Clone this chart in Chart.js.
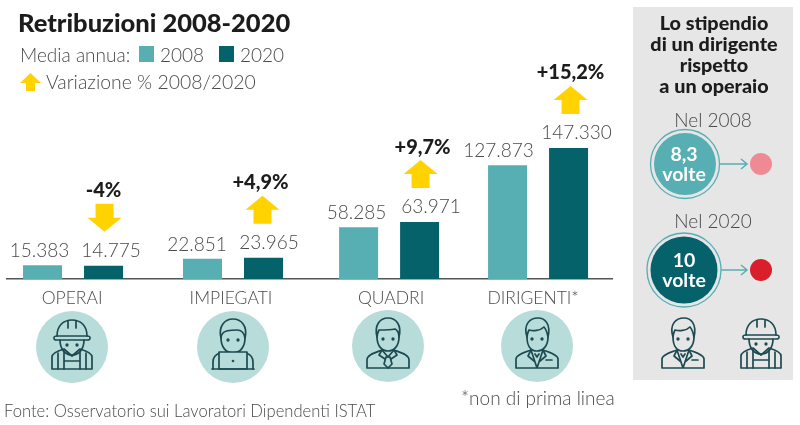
<!DOCTYPE html>
<html>
<head>
<meta charset="utf-8">
<title>Retribuzioni 2008-2020</title>
<script src="https://cdn.jsdelivr.net/npm/chart.js@4"></script>
<style>
html, body { margin: 0; padding: 0; background: #fff; }
#wrap { position: relative; width: 800px; height: 425px; overflow: hidden; }
#chart { position: absolute; left: 0; top: 0; }
#overlay { position: absolute; left: 0; top: 0; }
#overlay text { font-family: Lato, sans-serif; font-weight: 300; fill: #4a4a4a; dominant-baseline: central; }
#overlay text.b { font-weight: 900; fill: #1c1c1c; }
#overlay text.w { font-weight: 700; fill: #fff; text-anchor: middle; font-size: 19.5px; }
.ic { fill: none; stroke: #1d4a50; stroke-width: 1.7; stroke-linejoin: round; stroke-linecap: round; }
</style>
</head>
<body>
<div id="wrap">
<canvas id="chart" width="800" height="425"></canvas>
<svg id="overlay" width="800" height="425" viewBox="0 0 800 425">
  <defs>
    <g id="worker" class="ic">
      <path d="M7 18C7 8 13 2 22 2S37 8 37 18"/><path d="M18 3V10M26 3V10"/>
      <path d="M4 20C4 18 5 18 7 18H37C39 18 40 18 40 20S39 22 37 22H7C5 22 4 22 4 20Z"/>
      <path d="M10 22C10 31 15 37 22 37S34 31 34 22"/>
      <path d="M2 51V39C2 35 7 33 14 31L22 38L30 31C37 33 42 35 42 39V51Z"/>
      <path d="M8 35V51M14 33V51M30 33V51M36 35V51M14 43H30"/>
      <circle cx="17" cy="27" r=".8"/><circle cx="27" cy="27" r=".8"/>
    </g>
    <g id="clerk" class="ic">
      <path d="M10 20C7 8 14 1 22 1S37 8 34 20C33 14 30 12 26 12C20 12 14 12 12 15C11 16 10 18 10 20Z"/>
      <path d="M10 20C10 29 15 35 22 35S34 29 34 20"/>
      <path d="M2 51V44C2 38 6 36 9 35M42 51V44C42 38 38 36 35 35"/>
      <rect x="8" y="34" width="28" height="17" fill="#b8dcda"/><path d="M1 51H43"/>
      <circle cx="17" cy="22" r=".8"/><circle cx="27" cy="22" r=".8"/><circle cx="22" cy="43" r=".5"/>
    </g>
    <g id="boss" class="ic">
      <path d="M11 20C8 8 14 1 22 1S36 8 33 20C33 15 31 13 29 12C24 13 17 13 13 13C12 15 11 18 11 20Z"/>
      <path d="M11 20C11 29 16 34 22 34S33 29 33 20"/>
      <path d="M1 51V43C1 38 8 36 16 33L22 40L28 33C36 36 43 38 43 43V51Z"/>
      <path d="M20 40L18 47L22 51L26 47L24 40Z"/><path d="M16 33L13 38L19 42M28 33L31 38L25 42"/>
      <circle cx="17" cy="22" r=".8"/><circle cx="27" cy="22" r=".8"/>
    </g>
    <g id="exec" class="ic">
      <path d="M12 20C8 7 15 1 23 1C30 1 36 7 33 20C32 15 31 12 29 10C25 14 18 14 14 13C13 15 12 18 12 20Z"/>
      <path d="M12 20C12 29 16 34 22 34S33 29 33 20"/>
      <path d="M1 51V42C1 38 8 36 16 33L22 51L28 33C36 36 43 38 43 42V51Z"/>
      <path d="M16 33L13 39L19 44M28 33L31 39L25 44M20 37L22 40L24 37M31 43H37"/>
      <circle cx="17" cy="22" r=".8"/><circle cx="27" cy="22" r=".8"/>
    </g>
  </defs>

  <text class="b" x="18" y="22" font-size="25.5">Retribuzioni 2008-2020</text>
  <text x="20" y="54" font-size="19">Media annua:</text>
  <rect x="139" y="46" width="15" height="16" fill="#57aeb3"/>
  <text x="160" y="54" font-size="19">2008</text>
  <rect x="219" y="46" width="15" height="16" fill="#05616a"/>
  <text x="240" y="54" font-size="19">2020</text>
  <path d="M30.500 73L41 83H35V91H26V83H20Z" fill="#ffd200"/>
  <text x="46" y="81" font-size="19.400">Variazione % 2008/2020</text>

  <circle cx="72" cy="347" r="36" fill="#b8dcda"/>
  <circle cx="233" cy="347" r="36" fill="#b8dcda"/>
  <circle cx="388" cy="346" r="36" fill="#b8dcda"/>
  <circle cx="537" cy="346" r="36" fill="#b8dcda"/>
  <use href="#worker" x="50" y="318"/>
  <use href="#clerk" x="211" y="318"/>
  <use href="#boss" x="366" y="317"/>
  <use href="#exec" x="515" y="317"/>

  <text x="4" y="411" font-size="16.600">Fonte: Osservatorio sui Lavoratori Dipendenti ISTAT</text>
  <text x="461" y="397" font-size="19">*non di prima linea</text>

  <rect x="633" y="7" width="160" height="373" fill="#e6e6e7"/>
  <g text-anchor="middle" font-size="19.800">
    <text class="b" x="714" y="22">Lo stipendio</text>
    <text class="b" x="714" y="43">di un dirigente</text>
    <text class="b" x="714" y="64">rispetto</text>
    <text class="b" x="714" y="85">a un operaio</text>
    <text x="713" y="119" font-size="19">Nel 2008</text>
    <text x="713" y="220" font-size="19">Nel 2020</text>
  </g>
  <path d="M719 164H746M741 159L747 164L741 169" fill="none" stroke="#57aeb3" stroke-width="1.500"/>
  <path d="M721 270H746M741 265L747 270L741 275" fill="none" stroke="#57aeb3" stroke-width="1.500"/>
  <circle cx="685" cy="164" r="34.500" fill="none" stroke="#57aeb3" stroke-width="1.300"/>
  <circle cx="685" cy="164" r="31" fill="#57aeb3"/>
  <circle cx="684" cy="270" r="37" fill="none" stroke="#57aeb3" stroke-width="1.300"/>
  <circle cx="684" cy="270" r="33.500" fill="#05616a"/>
  <circle cx="761" cy="164" r="11" fill="#ef8a94"/>
  <circle cx="761" cy="270" r="11" fill="#d81f2a"/>
  <text class="w" x="684" y="153">8,3</text>
  <text class="w" x="684" y="173">volte</text>
  <text class="w" x="684" y="259">10</text>
  <text class="w" x="684" y="279">volte</text>
  <use href="#exec" x="661" y="317"/>
  <use href="#worker" x="739" y="317"/>
</svg>
</div>

<script>
// valori
var categories = ['OPERAI', 'IMPIEGATI', 'QUADRI', 'DIRIGENTI*'];
var years = ['2008', '2020'];
var values2008 = [15383, 22851, 58285, 127873];
var values2020 = [14775, 23965, 63971, 147330];
var changeLabels = ['-4%', '+4,9%', '+9,7%', '+15,2%'];

// gruppi non equidistanti nell'originale: posizione sull'asse x (in "gruppi")
var groupPos = [0, 1.032, 2.039, 3.0];
var tickPos = [-0.006, 1.019, 2.052, 2.968];

// scostamento orizzontale delle etichette rispetto alla barra
var nudge2008 = [-3, -5.5, -2, -9];
var nudge2020 = [7.5, 5.5, 11.5, 8];
var arrowNudge = [1, -1, 1, 2];
var changeNudge = [0, -3, 3, 2];

function toPoints(list) {
    return list.map(function (v, i) { return { x: groupPos[i], y: v }; });
}

function fmt(v) {
    return String(v).replace(/\B(?=(\d{3})+$)/g, '.');
}

function drawArrow(ctx, x, top, down) {
    var h = 28, headH = 14, headW = 17, shaftW = 9;
    ctx.beginPath();
    if (down) {
        ctx.moveTo(x - shaftW, top);
        ctx.lineTo(x + shaftW, top);
        ctx.lineTo(x + shaftW, top + h - headH);
        ctx.lineTo(x + headW, top + h - headH);
        ctx.lineTo(x, top + h);
        ctx.lineTo(x - headW, top + h - headH);
        ctx.lineTo(x - shaftW, top + h - headH);
    } else {
        ctx.moveTo(x, top);
        ctx.lineTo(x + headW, top + headH);
        ctx.lineTo(x + shaftW, top + headH);
        ctx.lineTo(x + shaftW, top + h);
        ctx.lineTo(x - shaftW, top + h);
        ctx.lineTo(x - shaftW, top + headH);
        ctx.lineTo(x - headW, top + headH);
    }
    ctx.closePath();
    ctx.fillStyle = '#ffd200';
    ctx.fill();
}

var barNotes = {
    id: 'barNotes',
    afterDatasetsDraw: function (chart) {
        var ctx = chart.ctx;
        var bars2008 = chart.getDatasetMeta(0).data;
        var bars2020 = chart.getDatasetMeta(1).data;
        ctx.save();
        ctx.textAlign = 'center';
        ctx.textBaseline = 'middle';
        categories.forEach(function (c, i) {
            ctx.font = '300 19px Lato, sans-serif';
            ctx.fillStyle = '#4a4a4a';
            ctx.fillText(fmt(values2008[i]), bars2008[i].x + nudge2008[i], bars2008[i].y - 14);
            ctx.fillText(fmt(values2020[i]), bars2020[i].x + nudge2020[i], bars2020[i].y - 15);

            var arrowTop = bars2020[i].y - 34 - 28;
            drawArrow(ctx, bars2020[i].x + arrowNudge[i], arrowTop, changeLabels[i].charAt(0) === '-');
            ctx.font = '900 20px Lato, sans-serif';
            ctx.fillStyle = '#1c1c1c';
            ctx.fillText(changeLabels[i], bars2020[i].x + changeNudge[i], arrowTop - 13);
        });
        ctx.restore();
    }
};

var chart = new Chart(document.getElementById('chart').getContext('2d'), {
    type: 'bar',
    data: {
        datasets: [
            { label: years[0], data: toPoints(values2008), backgroundColor: '#57aeb3' },
            { label: years[1], data: toPoints(values2020), backgroundColor: '#05616a' }
        ]
    },
    options: {
        responsive: false,
        animation: false,
        categoryPercentage: 122 / 142,
        barPercentage: 39 / 61,
        layout: { padding: { left: 7, right: 188, top: 12, bottom: 0 } },
        plugins: { legend: { display: false }, title: { display: false }, tooltip: { enabled: false } },
        scales: {
            x: {
                type: 'linear',
                offset: false,
                min: -0.426,
                max: 3.477,
                afterBuildTicks: function (scale) {
                    scale.ticks = tickPos.map(function (v) { return { value: v }; });
                },
                afterFit: function (scale) { scale.height = 146; },
                grid: { display: false, drawTicks: false },
                border: { display: true, color: '#555', width: 1.5 },
                ticks: {
                    autoSkip: false,
                    maxRotation: 0,
                    padding: 9,
                    color: '#4a4a4a',
                    font: { family: 'Lato, sans-serif', size: 17.5, weight: '300' },
                    callback: function (value, index) { return categories[index]; }
                }
            },
            y: {
                display: false,
                min: 0,
                max: 300000
            }
        }
    },
    plugins: [barNotes]
});
</script>
</body>
</html>
